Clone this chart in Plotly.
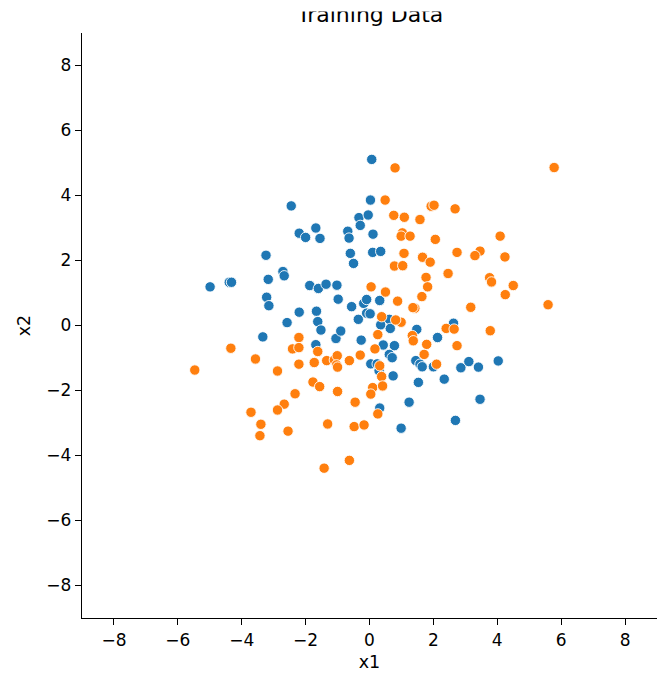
import plotly.graph_objects as go

# Class 0 samples
x1_class0 = [-2.45, -2.2, -2.0, -3.24, -2.71, -2.67, -4.99, -4.39, -4.32, -3.17, -3.22, -3.15, -2.2, -1.87,
             0.07, 0.03, -0.33, -0.04, -0.29, -1.68, -1.55, -0.68, -0.64, 0.11, -0.6, -0.5, 0.1, 0.35,
             -1.6, -1.36, -1.02, -0.98, -1.66, -0.56, -0.18, -0.09, 0.32, -0.09, 0.02,
             -2.58, -3.34,
             -1.62, -1.52, -1.05, -0.9, -1.68, -0.35, 0.62, 0.65, 0.35, -0.26, 0.43, 0.78, 0.62, 0.71,
             0.04, 0.24, 0.3, 1.48, 1.45, 1.58, 1.65, 2.0, 0.74, 1.53, 0.32, 1.24, 0.99,
             2.63, 2.13, 2.34, 2.86, 3.11, 3.41, 4.03, 3.46, 2.69]
x2_class0 = [3.68, 2.84, 2.71, 2.16, 1.66, 1.53, 1.19, 1.33, 1.33, 1.42, 0.87, 0.61, 0.41, 1.23,
             5.11, 3.86, 3.32, 3.4, 3.08, 3.0, 2.68, 2.9, 2.69, 2.81, 2.22, 1.91, 2.25, 2.28,
             1.14, 1.27, 1.24, 0.81, 0.44, 0.58, 0.68, 0.8, 0.77, 0.38, 0.36,
             0.09, -0.35,
             0.12, -0.14, -0.4, -0.17, -0.59, 0.19, 0.19, -0.09, 0.02, -0.45, -0.6, -0.62, -0.89, -0.99,
             -1.18, -1.18, -1.39, -0.12, -1.08, -1.19, -1.27, -1.27, -1.55, -1.75, -2.54, -2.36, -3.16,
             0.07, -0.37, -1.65, -1.3, -1.11, -1.28, -1.09, -2.27, -2.92]

# Class 1 samples
x1_class1 = [0.8, 0.49, 0.76, 1.09, 1.58, 1.93, 2.02, 1.03, 0.99, 1.27, 2.06, 1.08, 1.66, 1.9,
             0.78, 1.04, 1.77, 1.82, 1.64, 0.05, 0.5, 0.88, 1.42, 1.36,
             5.78, 2.68, 4.09, 2.74, 3.46, 3.3, 4.24, 2.46, 3.76, 3.82, 4.5, 4.25, 3.17, 5.59,
             -2.21, -2.41, -2.21, -4.34, -3.57, -2.21, -2.88, -5.47, -2.33, -2.67, -2.88, -3.71,
             -3.4, -3.43, -2.55,
             0.38, 0.99, 0.82, 0.26, 1.34, 1.37, 1.79, 0.17, 1.71, -1.62, -1.73, -1.34, -1.1,
             -1.01, -1.03, -1.0, -0.63, -0.29, 0.32, 0.38, -1.77, -1.56, -1.0, 0.1, 0.04, 0.41,
             -0.45, 0.26, -1.31, -0.48, -0.17, -0.63, -1.42,
             2.4, 2.65, 3.78, 2.74, 2.1]
x2_class1 = [4.85, 3.86, 3.39, 3.33, 3.26, 3.67, 3.7, 2.85, 2.75, 2.75, 2.65, 2.22, 2.1, 1.95,
             1.83, 1.84, 1.48, 1.19, 0.89, 1.19, 1.03, 0.75, 0.53, 0.55,
             4.86, 3.59, 2.75, 2.25, 2.29, 2.15, 2.11, 1.6, 1.47, 1.34, 1.23, 0.95, 0.56, 0.64,
             -0.37, -0.72, -0.68, -0.7, -1.03, -1.19, -1.4, -1.37, -2.1, -2.42, -2.6, -2.67,
             -3.04, -3.39, -3.25,
             0.27, 0.1, 0.17, -0.28, -0.31, -0.47, -0.58, -0.72, -0.89, -0.8, -1.14, -1.08, -1.06,
             -0.93, -1.21, -1.28, -1.08, -0.91, -1.24, -1.57, -1.74, -1.88, -2.03, -1.91, -2.11, -1.86,
             -2.36, -2.72, -3.03, -3.11, -3.06, -4.15, -4.39,
             -0.09, -0.11, -0.16, -0.62, -1.19]

tick_values = [-8, -6, -4, -2, 0, 2, 4, 6, 8]
tick_labels = [str(v).replace("-", "\u2212") for v in tick_values]

W, H = 663, 678
M_L, M_R, M_T, M_B = 82, 6, 33, 60
plot_h = H - M_T - M_B

FONT = "DejaVu Sans"
marker_style = dict(size=10.4, line=dict(color="white", width=0.9))

fig = go.Figure()
fig.add_trace(go.Scatter(x=x1_class0, y=x2_class0, mode="markers", name="0",
                         marker=dict(color="#1f77b4", **marker_style)))
fig.add_trace(go.Scatter(x=x1_class1, y=x2_class1, mode="markers", name="1",
                         marker=dict(color="#ff7f0e", **marker_style)))

axis_common = dict(
    range=[-9, 9],
    tickmode="array",
    tickvals=tick_values,
    ticktext=tick_labels,
    showgrid=False,
    zeroline=False,
    showline=True,
    linecolor="black",
    linewidth=1.4,
    ticks="outside",
    ticklen=6,
    tickwidth=1.4,
    tickcolor="black",
    tickfont=dict(family=FONT, size=17, color="black"),
)

fig.update_xaxes(**axis_common,
                 title=dict(text="x1", font=dict(family=FONT, size=17.5, color="black"),
                            standoff=7))
fig.update_yaxes(**axis_common,
                 title=dict(text="x2", font=dict(family=FONT, size=17.5, color="black"),
                            standoff=11))

# Title sits partly above the top edge of the canvas
fig.add_annotation(text="Training Data", xref="paper", yref="paper",
                   x=0.5, y=1 + (M_T - 29) / plot_h, yanchor="bottom", xanchor="center",
                   showarrow=False,
                   font=dict(family=FONT, size=22, color="black"))
fig.add_annotation(text=" ", xref="paper", yref="paper",
                   x=0.5, y=1 + M_T / plot_h, yanchor="top", xanchor="center",
                   showarrow=False, width=400, height=10, bgcolor="white", borderpad=0)

fig.update_layout(
    width=W, height=H,
    margin=dict(l=M_L, r=M_R, t=M_T, b=M_B),
    plot_bgcolor="white",
    paper_bgcolor="white",
    showlegend=False,
    font=dict(family=FONT, color="black"),
)

fig.write_html("out.html")
